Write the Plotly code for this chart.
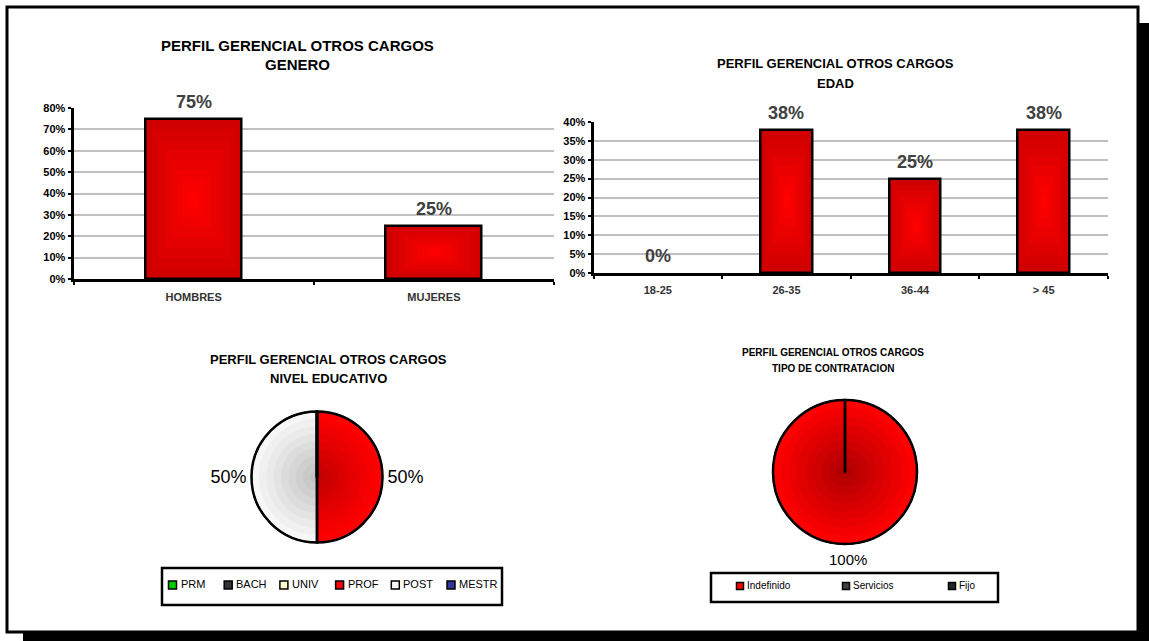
import plotly.graph_objects as go

W, H = 1149, 641
FONT = "Liberation Sans, Arial, Helvetica, sans-serif"

# ---- data -------------------------------------------------------------
titulo = "PERFIL GERENCIAL OTROS CARGOS"

genero_cat = ["HOMBRES", "MUJERES"]
genero_val = [0.75, 0.25]

edad_cat = ["18-25", "26-35", "36-44", "> 45"]
edad_val = [0.00, 0.38, 0.25, 0.38]

nivel_lab = ["PRM", "BACH", "UNIV", "PROF", "POST", "MESTR"]
nivel_val = [0, 0, 0, 50, 50, 0]

contrato_lab = ["Indefinido", "Servicios", "Fijo"]
contrato_val = [100, 0, 0]

# slice colours: rim colour and centre colour of the shaded fill
nivel_rim = ["#00cc00", "#333333", "#ffffcc", "#ff0000", "#f7f7f7", "#333399"]
nivel_mid = ["#00cc00", "#333333", "#ffffcc", "#c40000", "#c2c2c2", "#333399"]
contrato_rim = ["#ff0000", "#404040", "#262626"]
contrato_mid = ["#b00000", "#404040", "#262626"]


# ---- helpers ----------------------------------------------------------
def px_x(p):
    return p / W


def px_y(p):
    return 1 - p / H


def hex2rgb(h):
    h = h.lstrip("#")
    return tuple(int(h[i:i + 2], 16) for i in (0, 2, 4))


def mix(a, b, t):
    ca, cb = hex2rgb(a), hex2rgb(b)
    c = [round(ca[i] + (cb[i] - ca[i]) * t) for i in range(3)]
    return "rgb({},{},{})".format(*c)


fig = go.Figure()


def shaded_bars(cats, vals, xa, ya, width, edge="#d00000", centre="#ff0000", n=8):
    # nested rectangles give the bars a centre-lit fill
    for k in range(n):
        s = 0.9 * k / (n - 1)
        fig.add_trace(go.Bar(
            x=cats, y=[v * (1 - s) for v in vals], base=[v * s / 2 for v in vals],
            width=width * (1 - s),
            marker=dict(color=mix(edge, centre, k / (n - 1)), line_width=0),
            xaxis=xa, yaxis=ya, showlegend=False, hoverinfo="skip"))
    fig.add_trace(go.Bar(
        x=cats, y=vals, width=width,
        marker=dict(color="rgba(0,0,0,0)",
                    line=dict(color="black", width=[2.5 if v > 0 else 0 for v in vals])),
        xaxis=xa, yaxis=ya, showlegend=False, hovertemplate="%{x}: %{y:.0%}<extra></extra>"))
    # value labels above each bar
    for c, v in zip(cats, vals):
        fig.add_annotation(x=c, y=v, xref=xa, yref=ya, text=f"<b>{v:.0%}</b>",
                           showarrow=False, xanchor="center", yanchor="bottom", yshift=5,
                           font=dict(family=FONT, size=18, color="#404040"))


def shaded_pie(labels, vals, rim, mid, cx, cy, r, textsize, outside_text=True, n=9):
    # concentric pies, darker toward the centre, then an outlined top layer
    for k in range(n):
        rk = r * (1 - 0.9 * k / (n - 1))
        cols = [mix(a, b, k / (n - 1)) for a, b in zip(rim, mid)]
        fig.add_trace(go.Pie(
            labels=labels, values=vals, sort=False, direction="clockwise", rotation=0,
            marker=dict(colors=cols, line=dict(color="black", width=1.5 if k == 0 else 0)),
            domain=dict(x=[px_x(cx - rk), px_x(cx + rk)], y=[px_y(cy + rk), px_y(cy - rk)]),
            textinfo="none", showlegend=False, hoverinfo="skip"))
    total = sum(vals)
    fig.add_trace(go.Pie(
        labels=labels, values=vals, sort=False, direction="clockwise", rotation=0,
        marker=dict(colors=["rgba(0,0,0,0)"] * len(labels), line=dict(color="black", width=2.5)),
        domain=dict(x=[px_x(cx - r), px_x(cx + r)], y=[px_y(cy + r), px_y(cy - r)]),
        text=[f"{v / total:.0%}" if (v and outside_text) else "" for v in vals],
        textinfo="text" if outside_text else "none", textposition="outside",
        textfont=dict(family=FONT, size=textsize, color="black"),
        showlegend=False, hovertemplate="%{label}: %{percent}<extra></extra>"))


def legend_row(labels, colors, box, first, step, yc, sq, gap, fsize):
    # framed legend strip: one swatch + label per category
    x0, x1, y0, y1 = box
    fig.add_shape(type="rect", xref="paper", yref="paper", layer="below",
                  x0=px_x(x0), x1=px_x(x1), y0=px_y(y1), y1=px_y(y0),
                  fillcolor="white", line=dict(color="black", width=2.5))
    for i, (lab, col) in enumerate(zip(labels, colors)):
        cx = first + i * step
        fig.add_shape(type="rect", xref="paper", yref="paper",
                      x0=px_x(cx - sq / 2), x1=px_x(cx + sq / 2),
                      y0=px_y(yc + sq / 2), y1=px_y(yc - sq / 2),
                      fillcolor=col, line=dict(color="black", width=1.5))
        fig.add_annotation(x=px_x(cx + gap), y=px_y(yc - 1), xref="paper", yref="paper",
                           text=lab, showarrow=False, xanchor="left", yanchor="middle",
                           borderpad=0, font=dict(family=FONT, size=fsize, color="black"))


# ---- charts -----------------------------------------------------------
shaded_bars(genero_cat, genero_val, "x", "y", 0.40)
shaded_bars(edad_cat, edad_val, "x2", "y2", 0.40)
shaded_pie(nivel_lab, nivel_val, nivel_rim, nivel_mid, 317, 477, 65.5, 18)
shaded_pie(contrato_lab, contrato_val, contrato_rim, contrato_mid, 845, 472, 72, 15,
           outside_text=False)

# single full slice: its share sits centred under the pie
share = contrato_val[0] / sum(contrato_val)
fig.add_annotation(x=px_x(848), y=px_y(559), xref="paper", yref="paper", text=f"{share:.0%}",
                   showarrow=False, xanchor="center", yanchor="middle",
                   font=dict(family=FONT, size=15, color="black"))

legend_row(nivel_lab, nivel_rim, (162, 502, 568, 605), 172.5, 55.7, 585, 8, 7, 11)
legend_row(contrato_lab, contrato_rim, (711, 998, 573, 602), 740, 106, 586, 7, 6, 10)

axis_common = dict(showline=True, linecolor="black", linewidth=3, ticks="outside",
                   tickcolor="black", tickwidth=2, fixedrange=True)

fig.update_layout(
    width=W, height=H, autosize=False,
    margin=dict(l=0, r=0, t=0, b=0, pad=0, autoexpand=False),
    paper_bgcolor="white", plot_bgcolor="white",
    font=dict(family=FONT, color="black"),
    barmode="overlay", bargap=0, showlegend=False,
    xaxis=dict(domain=[px_x(73.5), px_x(554)], anchor="y", type="category",
               range=[-0.5, 1.5], tickson="boundaries", ticklen=3, showgrid=False,
               ticklabelstandoff=6, automargin=False,
               tickfont=dict(size=11, color="#333333", weight="bold"), **axis_common),
    yaxis=dict(domain=[px_y(279), px_y(108)], anchor="x", range=[0, 0.8], dtick=0.1,
               tickformat=".0%", ticklen=3, showgrid=True, gridcolor="#c0c0c0", gridwidth=2,
               zeroline=False, automargin=False,
               tickfont=dict(size=11, weight="bold"), **axis_common),
    xaxis2=dict(domain=[px_x(593.5), px_x(1108)], anchor="y2", type="category",
                range=[-0.5, 3.5], tickson="boundaries", ticklen=3, showgrid=False,
                ticklabelstandoff=5, automargin=False,
                tickfont=dict(size=11, color="#333333", weight="bold"), **axis_common),
    yaxis2=dict(domain=[px_y(273), px_y(122)], anchor="x2", range=[0, 0.4], dtick=0.05,
                tickformat=".0%", ticklen=3, showgrid=True, gridcolor="#c0c0c0", gridwidth=2,
                zeroline=False, automargin=False,
                tickfont=dict(size=11, weight="bold"), **axis_common),
)

# page frame with drop shadow
fig.add_shape(type="rect", xref="paper", yref="paper", layer="below",
              x0=px_x(23), x1=1.01, y0=-0.01, y1=px_y(23),
              fillcolor="black", line_width=0)
fig.add_shape(type="rect", xref="paper", yref="paper", layer="below",
              x0=px_x(7), x1=px_x(1138), y0=px_y(632), y1=px_y(7),
              fillcolor="white", line=dict(color="black", width=3))
# keep the frame underneath the legend strips
fig.layout.shapes = fig.layout.shapes[-2:] + fig.layout.shapes[:-2]

# chart titles
titles = [
    (297, 45, titulo, 15), (297, 65, "GENERO", 15),
    (835, 63, titulo, 13), (835, 83, "EDAD", 13),
    (328, 359, titulo, 13), (328, 378, "NIVEL EDUCATIVO", 13),
    (833, 352, titulo, 10), (833, 368, "TIPO DE CONTRATACION", 10),
]
for x, y, txt, size in titles:
    fig.add_annotation(x=px_x(x), y=px_y(y), xref="paper", yref="paper", text=f"<b>{txt}</b>",
                       showarrow=False, xanchor="center", yanchor="middle",
                       font=dict(family=FONT, size=size, color="black"))

fig.write_html("out.html")
